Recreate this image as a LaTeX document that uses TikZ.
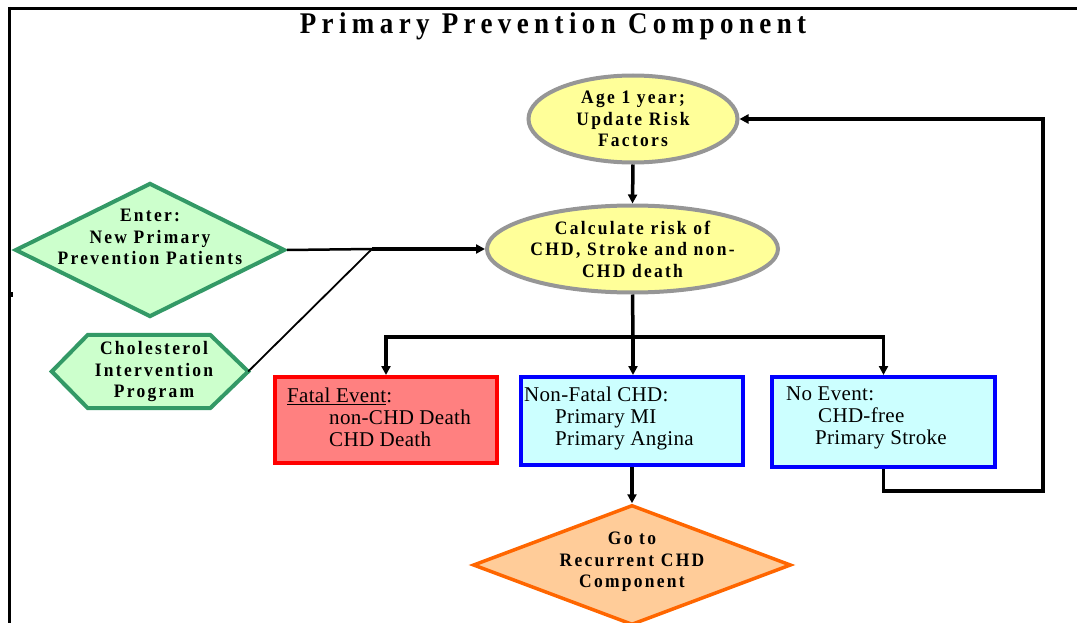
\documentclass[tikz,border=0pt]{standalone}
\usepackage{fontspec}
\setmainfont{Liberation Serif}
\newfontfamily\titlefont[LetterSpace=18,FakeStretch=0.9]{Liberation Serif}
\newfontfamily\shapefont[LetterSpace=12,FakeStretch=0.92]{Liberation Serif}
\newfontfamily\boxfont[LetterSpace=1.5]{Liberation Serif}
\usetikzlibrary{shapes.geometric,arrows.meta,backgrounds}

\definecolor{ellfill}{HTML}{FFFF99}
\definecolor{elldraw}{HTML}{969696}
\definecolor{grnfill}{HTML}{CCFFCC}
\definecolor{grndraw}{HTML}{339966}
\definecolor{redfill}{HTML}{FF8080}
\definecolor{reddraw}{HTML}{FF0000}
\definecolor{blufill}{HTML}{CCFFFF}
\definecolor{bludraw}{HTML}{0000FF}
\definecolor{orgfill}{HTML}{FFCC99}
\definecolor{orgdraw}{HTML}{FF6600}

\tikzset{
  ellnode/.style={ellipse, draw=elldraw, fill=ellfill, line width=4pt,
    inner sep=0pt, align=center, font=\shapefont\bfseries\fontsize{19}{21.5}\selectfont},
  grnshape/.style={draw=grndraw, fill=grnfill, line width=4pt},
  decision/.style={diamond, inner sep=0pt},
  evbox/.style={rectangle, line width=4pt, inner sep=0pt},
  shapetext/.style={align=center, inner sep=0pt, font=\shapefont\bfseries\fontsize{19}{21.5}\selectfont},
  boxtext/.style={align=left, inner sep=0pt, font=\boxfont\fontsize{21}{22}\selectfont},
  conn/.style={line width=3.5pt, line join=miter},
  tip/.tip={Triangle[length=9pt,width=9pt]}
}

\begin{document}
\begin{tikzpicture}[x=1pt,y=-1pt]
\useasboundingbox (0,0) rectangle (1077,623);

% page frame
\draw[line width=3.5pt] (8,8.5) -- (1077,8.5);
\draw[line width=2.5pt] (9.5,7) -- (9.5,623);
\fill (8,292) rectangle (13,297);

% title
\node[font=\titlefont\bfseries\fontsize{30}{32}\selectfont] (title) at (553,26) {Primary Prevention Component};

% yearly cycle
\node[ellnode, minimum width=209pt, minimum height=87pt] (age) at (633,119) {Age 1 year;\\Update Risk\\Factors};
\node[ellnode, minimum width=291pt, minimum height=87pt] (calc) at (632.5,249) {Calculate risk of\\CHD, Stroke and non-\\CHD death};

% entry points
\node[decision, grnshape, minimum width=270pt, minimum height=134pt] (enter) at (150,250) {};
\node[shapetext] (entertxt) at (150,237) {Enter:\\New Primary\\Prevention Patients};

\node[minimum width=196pt, minimum height=73pt, inner sep=0pt] (hex) at (150,371.5) {};
\begin{scope}[on background layer]
  \draw[grnshape, line join=miter]
    (hex.west) -- ([xshift=36pt]hex.north west) -- ([xshift=-38pt]hex.north east)
    -- (hex.east) -- ([xshift=-38pt]hex.south east) -- ([xshift=36pt]hex.south west) -- cycle;
\end{scope}
\node[shapetext] (hextxt) at (154,372) {Cholesterol\\Intervention\\Program};

% outcome boxes
\node[evbox, draw=reddraw, fill=redfill, minimum width=222pt, minimum height=86pt] (fatal) at (386,420) {};
\node[boxtext, anchor=west] (fataltxt) at (287,417) {\underline{Fatal Event}:\\\hspace*{42pt}non-CHD Death\\\hspace*{42pt}CHD Death};

\node[evbox, draw=bludraw, fill=blufill, minimum width=222pt, minimum height=88pt] (nonfatal) at (632,421) {};
\node[boxtext, anchor=west] (nonfataltxt) at (524,418) {Non-Fatal CHD:\\\hspace*{31pt}Primary MI\\\hspace*{31pt}Primary Angina};

\node[evbox, draw=bludraw, fill=blufill, minimum width=223pt, minimum height=90pt] (noevent) at (883.5,422) {};
\node[boxtext, anchor=west] (noeventtxt) at (786,418) {No Event:\\\hspace*{32pt}CHD-free\\\hspace*{29pt}Primary Stroke};

% hand-over to the recurrent component
\node[decision, draw=orgdraw, fill=orgfill, line width=3.5pt, minimum width=318pt, minimum height=120pt] (goto) at (632,565) {};
\node[shapetext] (gototxt) at (632,562) {Go to\\Recurrent CHD\\Component};

% connectors
\coordinate (join) at (372,249);
\coordinate (split) at (633,337);
\coordinate (loopcorner) at (1043,491);

\draw[conn, -tip] (age.south) -- (calc.north);
\draw[line width=2.5pt] (enter.east) -- (join);
\draw[conn, -tip] (join) -- (calc.west);
\draw[line width=1.8pt] (hex.east) -- (join);

\draw[conn] (calc.south) -- (split);
\draw[conn, -tip] (split) -| (fatal.north);
\draw[conn, -tip] (split) -| (noevent.north);
\draw[conn, -tip] (split) -- (split |- nonfatal.north);

\draw[conn, -tip] (nonfatal.south) -- (goto.north);
\draw[conn, -tip] (noevent.south) |- (loopcorner) |- (age.east);
\end{tikzpicture}
\end{document}
